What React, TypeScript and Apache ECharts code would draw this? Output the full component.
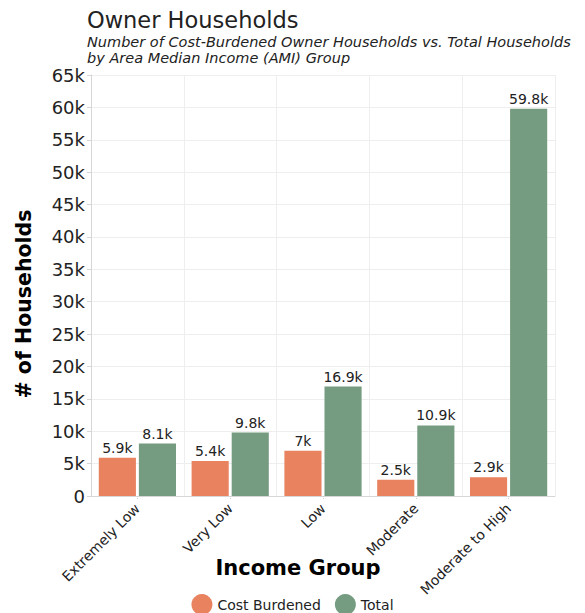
import React, { useEffect, useRef } from "react";
import * as echarts from "echarts";

const categories = ["Extremely Low", "Very Low", "Low", "Moderate", "Moderate to High"];
const costBurdened = [5900, 5400, 7000, 2500, 2900];
const total = [8100, 9800, 16900, 10900, 59800];
const seriesNames = ["Cost Burdened", "Total"];
const yMax = 65000;
const yInterval = 5000;

const FONT = "'DejaVu Sans', sans-serif";
const TXT = "#222";

const fmtK = (v: number) => {
  if (v === 0) return "0";
  const k = v / 1000;
  return (Number.isInteger(k) ? k.toFixed(0) : k.toFixed(1)) + "k";
};

export default function App() {
  const ref = useRef<HTMLDivElement>(null);
  useEffect(() => {
    document.body.style.margin = "0";
    if (!ref.current) return;
    const chart = echarts.init(ref.current, null, { renderer: "svg" });
    const label = {
      show: true,
      position: "top",
      distance: 3,
      color: TXT,
      fontFamily: FONT,
      fontSize: 14,
      formatter: (p: any) => fmtK(p.value),
    };
    chart.setOption({
      animation: false,
      backgroundColor: "#fff",
      textStyle: { fontFamily: FONT },
      title: {
        left: 82,
        top: 3,
        text: "Owner Households",
        subtext:
          "Number of Cost-Burdened Owner Households vs. Total Households\nby Area Median Income (AMI) Group",
        itemGap: 3,
        textStyle: { fontFamily: FONT, fontSize: 22.5, fontWeight: "normal", color: TXT },
        subtextStyle: {
          fontFamily: FONT,
          fontSize: 14.5,
          fontStyle: "italic",
          color: TXT,
          lineHeight: 16,
        },
      },
      graphic: [
        {
          type: "text",
          x: 24,
          y: 304,
          rotation: Math.PI / 2,
          style: {
            text: "# of Households",
            fontFamily: FONT,
            fontSize: 20.5,
            fontWeight: "bold",
            fill: "#000",
            align: "center",
            verticalAlign: "middle",
          },
        },
        {
          type: "text",
          x: 298,
          y: 568,
          style: {
            text: "Income Group",
            fontFamily: FONT,
            fontSize: 21,
            fontWeight: "bold",
            fill: "#000",
            align: "center",
            verticalAlign: "middle",
          },
        },
      ],
      legend: {
        top: 589,
        left: "center",
        icon: "circle",
        itemWidth: 21,
        itemHeight: 21,
        itemGap: 14,
        textStyle: { fontFamily: FONT, fontSize: 14, color: TXT },
        data: seriesNames,
      },
      grid: {
        left: 91,
        right: 30,
        top: 75,
        bottom: 117,
        containLabel: false,
        outerBoundsMode: "none",
      },
      xAxis: {
        type: "category",
        data: categories,
        axisLine: { lineStyle: { color: "#d6d6d6", width: 1 } },
        axisTick: { show: true, alignWithLabel: true, length: 4, lineStyle: { color: "#ccc", type: "dotted" } },
        splitLine: { show: true, lineStyle: { color: "#eeeeee" } },
        axisLabel: {
          rotate: 45,
          fontFamily: FONT,
          fontSize: 14,
          color: TXT,
          margin: 10,
          interval: 0,
        },
      },
      yAxis: {
        type: "value",
        min: 0,
        max: yMax,
        interval: yInterval,
        axisLine: { show: true, lineStyle: { color: "#d6d6d6" } },
        axisTick: { show: true, length: 4, lineStyle: { color: "#d6d6d6" } },
        splitLine: { show: true, lineStyle: { color: "#eeeeee" } },
        axisLabel: {
          fontFamily: FONT,
          fontSize: 18,
          color: TXT,
          margin: 6,
          formatter: (v: number) => fmtK(v),
        },
      },
      series: [
        {
          name: seriesNames[0],
          type: "bar",
          data: costBurdened,
          itemStyle: { color: "#E8825F" },
          barWidth: "40%",
          barGap: "8%",
          label,
        },
        {
          name: seriesNames[1],
          type: "bar",
          data: total,
          itemStyle: { color: "#759B80" },
          barWidth: "40%",
          barGap: "8%",
          label,
        },
      ],
    });
    return () => chart.dispose();
  }, []);
  return <div ref={ref} style={{ width: 585, height: 613 }} />;
}
